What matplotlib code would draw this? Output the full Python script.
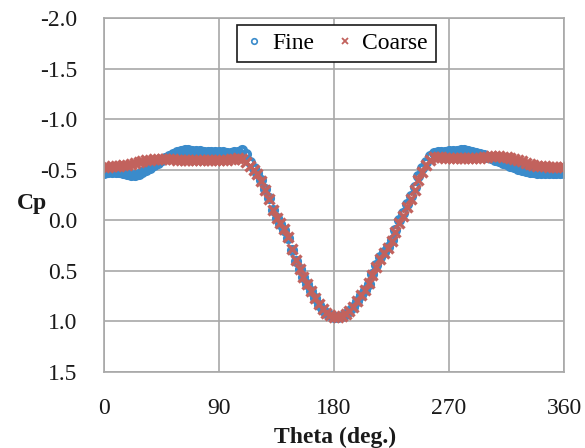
import numpy as np
import matplotlib
matplotlib.use("Agg")
import matplotlib.pyplot as plt
from matplotlib.lines import Line2D

# Surface pressure coefficient around the cylinder, sampled every 3 degrees
theta = list(range(0, 361, 3))

cp_fine = [
    -0.47, -0.475, -0.48, -0.48, -0.475, -0.465, -0.455, -0.45, -0.45, -0.46,
    -0.48, -0.50, -0.52, -0.545, -0.57, -0.595, -0.62, -0.64, -0.66, -0.675,
    -0.685, -0.69, -0.69, -0.685, -0.685, -0.685, -0.68, -0.68, -0.68, -0.68,
    -0.675, -0.675, -0.67, -0.67, -0.675, -0.68, -0.69, -0.66, -0.58, -0.52,
    -0.47, -0.40, -0.31, -0.22, -0.10, -0.02, 0.04, 0.10, 0.18, 0.29,
    0.40, 0.48, 0.56, 0.63, 0.70, 0.77, 0.84, 0.89, 0.92, 0.94,
    0.955, 0.96, 0.95, 0.93, 0.90, 0.86, 0.80, 0.74, 0.69, 0.63,
    0.53, 0.44, 0.36, 0.31, 0.26, 0.19, 0.10, 0.00, -0.07, -0.16,
    -0.24, -0.33, -0.44, -0.52, -0.58, -0.64, -0.665, -0.675, -0.68, -0.68,
    -0.685, -0.685, -0.685, -0.69, -0.69, -0.685, -0.68, -0.67, -0.66, -0.645,
    -0.63, -0.615, -0.60, -0.585, -0.57, -0.555, -0.54, -0.525, -0.51, -0.50,
    -0.49, -0.48, -0.475, -0.47, -0.47, -0.47, -0.47, -0.47, -0.47, -0.47,
    -0.47,
]

cp_coarse = [
    -0.53, -0.53, -0.535, -0.535, -0.54, -0.545, -0.55, -0.555, -0.565, -0.575,
    -0.585, -0.595, -0.60, -0.605, -0.61, -0.61, -0.61, -0.605, -0.605, -0.60,
    -0.60, -0.60, -0.60, -0.60, -0.60, -0.60, -0.60, -0.595, -0.595, -0.595,
    -0.595, -0.595, -0.60, -0.605, -0.61, -0.615, -0.61, -0.58, -0.54, -0.50,
    -0.46, -0.39, -0.30, -0.21, -0.10, -0.02, 0.03, 0.09, 0.17, 0.28,
    0.39, 0.48, 0.56, 0.63, 0.70, 0.77, 0.83, 0.88, 0.92, 0.94,
    0.955, 0.96, 0.95, 0.93, 0.90, 0.86, 0.80, 0.74, 0.69, 0.62,
    0.54, 0.46, 0.38, 0.32, 0.27, 0.20, 0.12, 0.03, -0.04, -0.13,
    -0.21, -0.30, -0.40, -0.48, -0.55, -0.60, -0.625, -0.63, -0.625, -0.62,
    -0.62, -0.62, -0.62, -0.62, -0.62, -0.62, -0.62, -0.62, -0.62, -0.625,
    -0.63, -0.635, -0.635, -0.635, -0.63, -0.625, -0.62, -0.61, -0.60, -0.585,
    -0.57, -0.56, -0.55, -0.54, -0.535, -0.535, -0.53, -0.53, -0.53, -0.53,
    -0.53,
]

x_ticks = [0, 90, 180, 270, 360]
y_ticks = [-2.0, -1.5, -1.0, -0.5, 0.0, 0.5, 1.0, 1.5]

plt.rcParams["font.family"] = ["Liberation Serif", "DejaVu Serif"]

blue = "#3A8BCB"
red = "#C2625D"
grid_c = "#A8A8A8"
text_c = "#1a1a1a"

fig = plt.figure(figsize=(5.85, 4.48), dpi=100)
ax = fig.add_axes([104 / 585, 1 - 372 / 448, 460 / 585, 354 / 448])

ax.plot(theta, cp_fine, linestyle="none", marker="o", markersize=5.2,
        markerfacecolor="none", markeredgecolor=blue, markeredgewidth=2.8,
        label="Fine")
ax.plot(theta, cp_coarse, linestyle="none", marker="x", markersize=7.5,
        color=red, markeredgewidth=2.4, label="Coarse")

ax.set_xlim(0, 360)
ax.set_ylim(1.5, -2.0)
ax.set_xticks(x_ticks)
ax.set_yticks(y_ticks)
ax.set_xticklabels([str(v) for v in x_ticks])
ax.set_yticklabels([f"{v:.1f}" for v in y_ticks])
ax.tick_params(axis="both", length=0, labelsize=17, colors=text_c)
ax.tick_params(axis="y", pad=19)
ax.tick_params(axis="x", pad=19)

ax.grid(True, color=grid_c, linewidth=1.2)
ax.set_axisbelow(True)
for s in ax.spines.values():
    s.set_color(grid_c)
    s.set_linewidth(1.2)

fig.text(32 / 585, 1 - 203 / 448, "Cp", fontsize=17, fontweight="bold",
         ha="center", va="center", color=text_c)
fig.text(335 / 585, 1 - 437 / 448, "Theta (deg.)", fontsize=17,
         fontweight="bold", ha="center", va="center", color=text_c)

# Legend handles use thin, small markers
handles = [
    Line2D([], [], linestyle="none", marker="o", markersize=4,
           markerfacecolor="none", markeredgecolor=blue, markeredgewidth=1.2),
    Line2D([], [], linestyle="none", marker="x", markersize=5,
           color=red, markeredgewidth=1.3),
]
leg = ax.legend(handles, ["Fine", "Coarse"], loc="upper center",
                bbox_to_anchor=(0.505, 0.98), ncol=2, fontsize=17,
                frameon=True, fancybox=False, handlelength=0.8,
                handletextpad=0.35, columnspacing=0.9, borderpad=0.33,
                borderaxespad=0)
leg.get_frame().set_edgecolor(text_c)
leg.get_frame().set_linewidth(1.2)
leg.get_frame().set_alpha(1)

fig.savefig("out.png", dpi=100)
